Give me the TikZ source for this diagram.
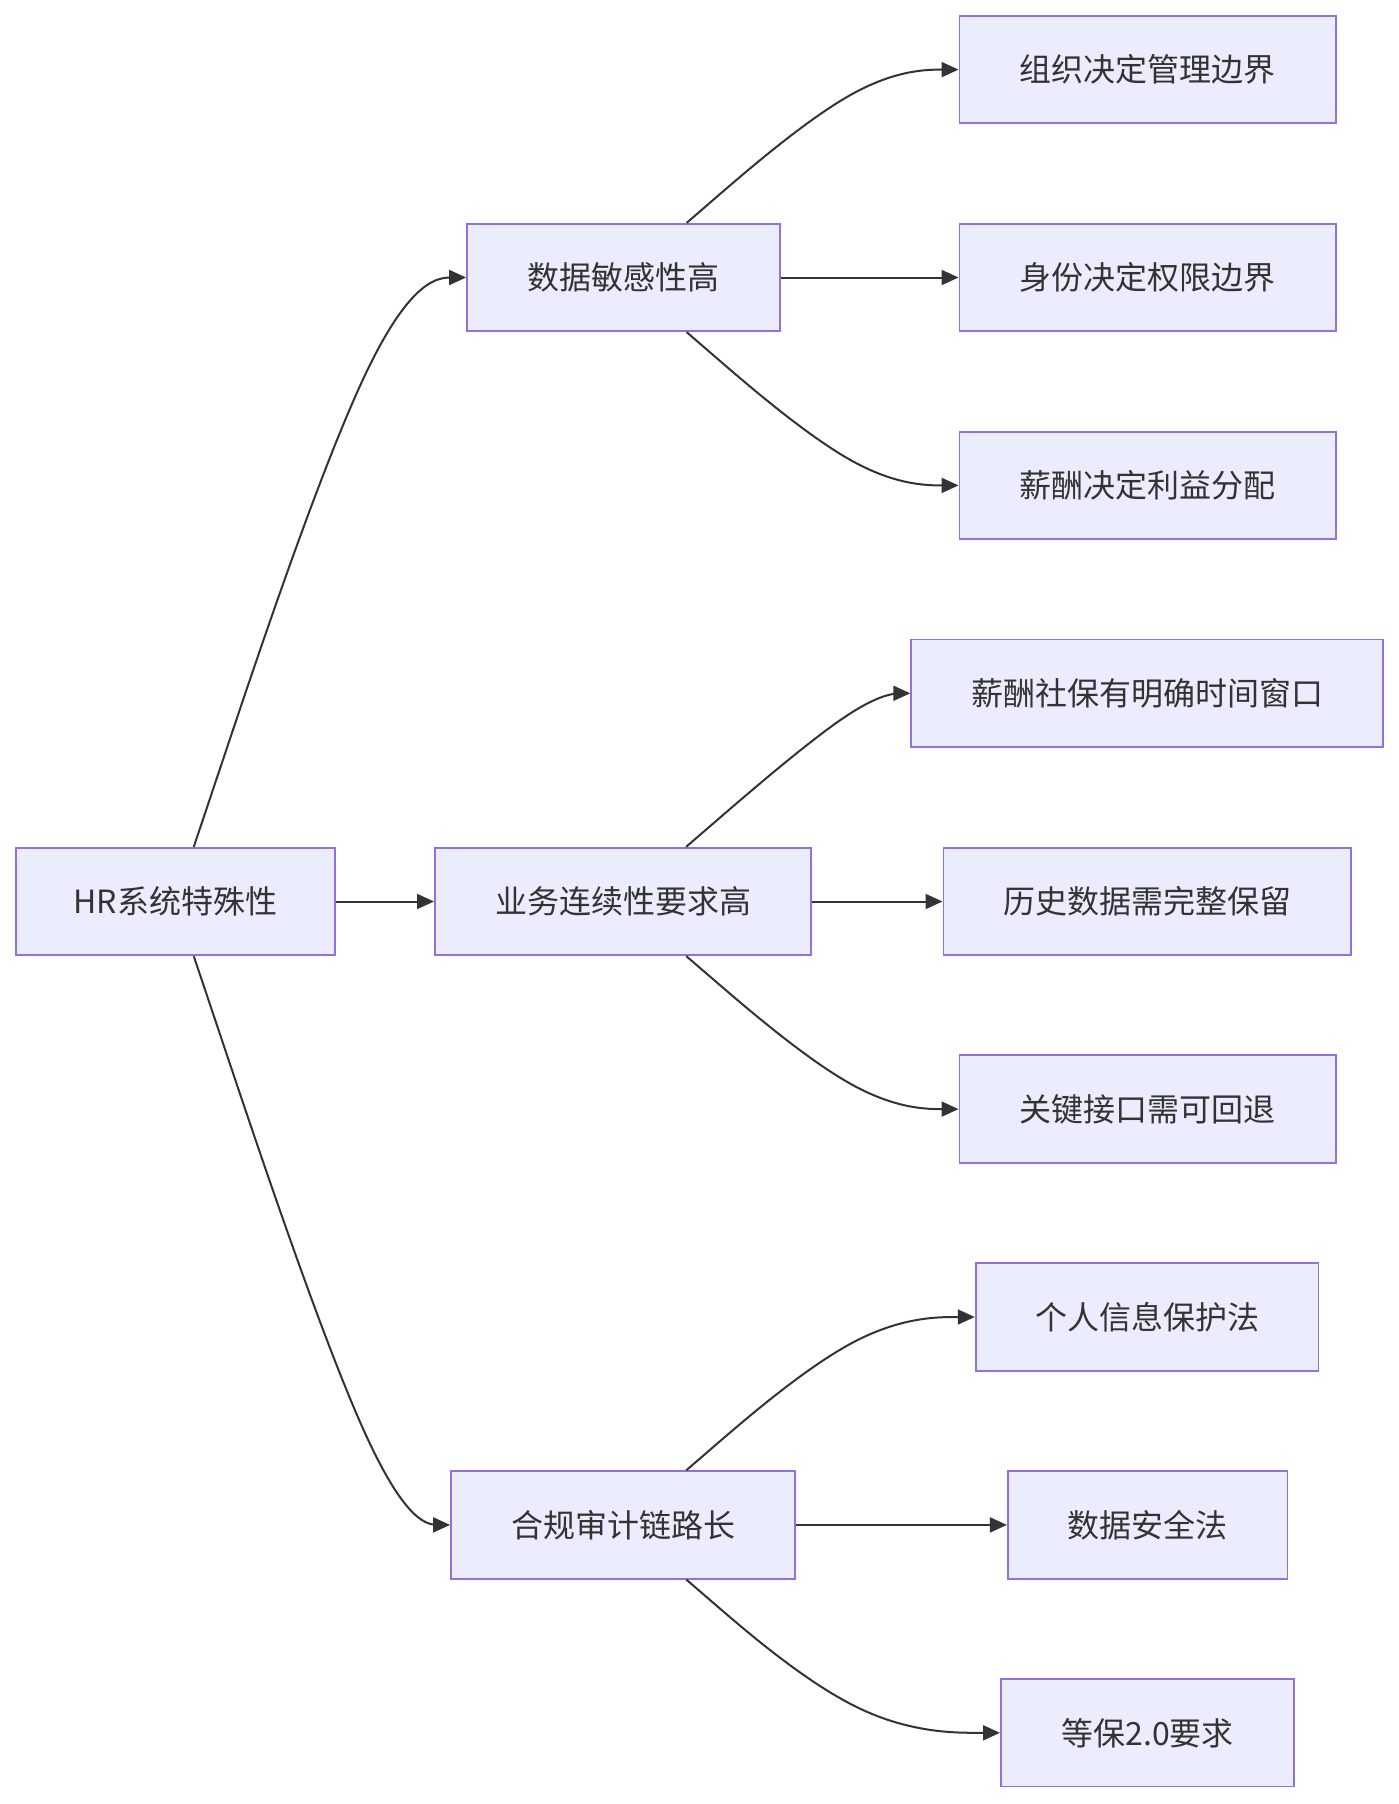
\documentclass[tikz,border=0pt]{standalone}
\usepackage{fontspec}
\setmainfont{Noto Sans CJK SC}
\usetikzlibrary{calc,arrows.meta}
\definecolor{nodefill}{HTML}{ECECFF}
\definecolor{nodeline}{HTML}{9370DB}
\definecolor{ink}{HTML}{333333}
\tikzset{
  box/.style={draw=nodeline, fill=nodefill, line width=1.8pt, minimum height=107.5pt,
    inner sep=0pt, text=ink, font=\fontsize{32pt}{36pt}\selectfont},
  edge/.style={draw=ink, line width=2pt, -{Triangle[length=17pt,width=15pt]}},
}
% basis curve: source node, middle coordinate, target node
\newcommand{\bcurve}[3]{%
  \path (#1) -- (#2) coordinate[pos=0] (q0);
  \path (#2) -- (#3) coordinate[pos=1] (q2);
  \draw[edge] (#1) -- ($(q0)!1/6!(#2)$)
     .. controls ($(q0)!1/3!(#2)$) and ($(q0)!2/3!(#2)$) .. ($1/6*(q0)+2/3*(#2)+1/6*(q2)$)
     .. controls ($(#2)!1/3!(q2)$) and ($(#2)!2/3!(q2)$) .. ($(#2)!5/6!(q2)$) -- (#3);
}
\begin{document}
\begin{tikzpicture}[x=1pt,y=-1pt]
\useasboundingbox (0,0) rectangle (1399,1804);
% first column
\node[box, minimum width=318.7pt] (root) at (175.5,901.5) {HR系统特殊性};
% second column
\node[box, minimum width=313pt]   (A) at (623.5,277.5)  {数据敏感性高};
\node[box, minimum width=376.2pt] (B) at (623,901.5)    {业务连续性要求高};
\node[box, minimum width=344pt]   (C) at (623,1524.9)   {合规审计链路长};
% third column
\node[box, minimum width=376.3pt] (A1) at (1147.6,69.6)   {组织决定管理边界};
\node[box, minimum width=376.3pt] (A2) at (1147.6,277.5)  {身份决定权限边界};
\node[box, minimum width=376.3pt] (A3) at (1147.6,485.4)  {薪酬决定利益分配};
\node[box, minimum width=471.7pt] (B1) at (1147.05,693.3) {薪酬社保有明确时间窗口};
\node[box, minimum width=407.3pt] (B2) at (1147.05,901.5) {历史数据需完整保留};
\node[box, minimum width=376.3pt] (B3) at (1147.6,1109.1) {关键接口需可回退};
\node[box, minimum width=342.8pt] (C1) at (1147.05,1317)  {个人信息保护法};
\node[box, minimum width=279.6pt] (C2) at (1147.6,1524.9) {数据安全法};
\node[box, minimum width=293.4pt] (C3) at (1147.6,1732.8) {等保2.0要求};
% bend coordinates
\coordinate (mA)  at (384.5,277.5);
\coordinate (mC)  at (384.5,1524.9);
\coordinate (mA1) at (864,69.6);
\coordinate (mA3) at (864,485.4);
\coordinate (mB1) at (864,693.3);
\coordinate (mB3) at (864,1109.1);
\coordinate (mC1) at (864,1317);
\coordinate (mC3) at (864,1732.8);
% connectors
\bcurve{root}{mA}{A}
\draw[edge] (root) -- (B);
\bcurve{root}{mC}{C}
\bcurve{A}{mA1}{A1}
\draw[edge] (A) -- (A2);
\bcurve{A}{mA3}{A3}
\bcurve{B}{mB1}{B1}
\draw[edge] (B) -- (B2);
\bcurve{B}{mB3}{B3}
\bcurve{C}{mC1}{C1}
\draw[edge] (C) -- (C2);
\bcurve{C}{mC3}{C3}
\end{tikzpicture}
\end{document}
